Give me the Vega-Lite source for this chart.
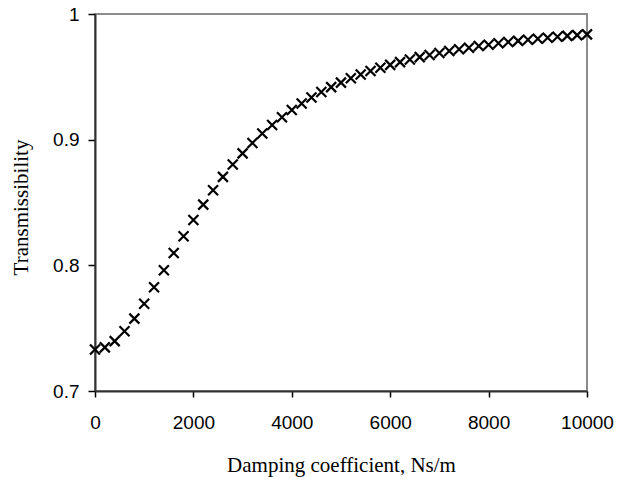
{
  "$schema": "https://vega.github.io/schema/vega-lite/v6.json",
  "width": 492,
  "height": 377,
  "autosize": "none",
  "padding": {"left": 95, "top": 14, "right": 31, "bottom": 88},
  "background": "white",
  "config": {
    "view": {"stroke": "#8c8c8c", "strokeWidth": 2},
    "axis": {
      "grid": false,
      "domainColor": "#333333",
      "domainWidth": 2,
      "tickColor": "#000000",
      "tickWidth": 1.5,
      "labelFont": "Liberation Sans",
      "labelFontSize": 19,
      "labelColor": "#000000",
      "titleFont": "Liberation Serif",
      "titleFontSize": 21,
      "titleFontWeight": "normal",
      "titleColor": "#000000"
    }
  },
  "data": {
    "values": [
      {"c": 0, "T": 0.7330}, {"c": 200, "T": 0.7347}, {"c": 400, "T": 0.7397}, {"c": 600, "T": 0.7475},
      {"c": 800, "T": 0.7576}, {"c": 1000, "T": 0.7695}, {"c": 1200, "T": 0.7825}, {"c": 1400, "T": 0.7961},
      {"c": 1600, "T": 0.8098}, {"c": 1800, "T": 0.8232}, {"c": 2000, "T": 0.8361}, {"c": 2200, "T": 0.8483},
      {"c": 2400, "T": 0.8598}, {"c": 2600, "T": 0.8704}, {"c": 2800, "T": 0.8802}, {"c": 3000, "T": 0.8891},
      {"c": 3200, "T": 0.8974}, {"c": 3400, "T": 0.9049}, {"c": 3600, "T": 0.9117}, {"c": 3800, "T": 0.9179},
      {"c": 4000, "T": 0.9236}, {"c": 4200, "T": 0.9288}, {"c": 4400, "T": 0.9335}, {"c": 4600, "T": 0.9379},
      {"c": 4800, "T": 0.9418}, {"c": 5000, "T": 0.9454}, {"c": 5200, "T": 0.9488}, {"c": 5400, "T": 0.9518},
      {"c": 5600, "T": 0.9546}, {"c": 5800, "T": 0.9572}, {"c": 6000, "T": 0.9595}, {"c": 6200, "T": 0.9617},
      {"c": 6400, "T": 0.9638}, {"c": 6600, "T": 0.9657}, {"c": 6800, "T": 0.9674}, {"c": 7000, "T": 0.9690},
      {"c": 7200, "T": 0.9705}, {"c": 7400, "T": 0.9719}, {"c": 7600, "T": 0.9732}, {"c": 7800, "T": 0.9745},
      {"c": 8000, "T": 0.9756}, {"c": 8200, "T": 0.9767}, {"c": 8400, "T": 0.9777}, {"c": 8600, "T": 0.9786},
      {"c": 8800, "T": 0.9795}, {"c": 9000, "T": 0.9803}, {"c": 9200, "T": 0.9811}, {"c": 9400, "T": 0.9819},
      {"c": 9600, "T": 0.9826}, {"c": 9800, "T": 0.9832}, {"c": 10000, "T": 0.9838}
    ]
  },
  "mark": {
    "type": "point",
    "shape": "M-1,-1L1,1M-1,1L1,-1",
    "size": 100,
    "filled": false,
    "stroke": "#000000",
    "strokeWidth": 2.2,
    "opacity": 1,
    "clip": false
  },
  "encoding": {
    "x": {
      "field": "c",
      "type": "quantitative",
      "scale": {"domain": [0, 10000], "nice": false, "zero": false},
      "axis": {
        "title": "Damping coefficient, Ns/m",
        "values": [0, 2000, 4000, 6000, 8000, 10000],
        "format": "d",
        "tickSize": 6,
        "labelPadding": 16,
        "titleY": 80,
        "titleBaseline": "alphabetic",
        "labelFlush": false,
        "labelOverlap": false
      }
    },
    "y": {
      "field": "T",
      "type": "quantitative",
      "scale": {"domain": [0.7, 1], "nice": false, "zero": false},
      "axis": {
        "title": "Transmissibility",
        "values": [0.7, 0.8, 0.9, 1],
        "format": "~g",
        "tickSize": 7,
        "labelPadding": 9,
        "titleAngle": -90,
        "titleX": -68,
        "titleY": 193,
        "titleAlign": "center",
        "titleBaseline": "alphabetic",
        "labelFlush": false,
        "labelOverlap": false
      }
    }
  }
}
